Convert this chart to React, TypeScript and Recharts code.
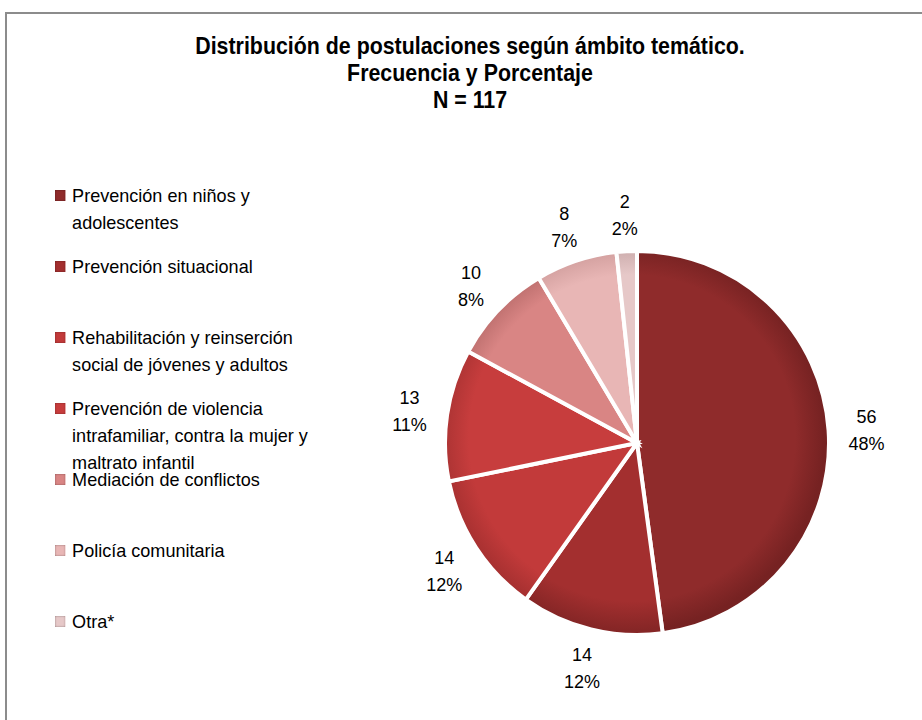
import { PieChart, Pie, Cell } from "recharts";

const categories = [
  "Prevención en niños y adolescentes",
  "Prevención situacional",
  "Rehabilitación y reinserción social de jóvenes y adultos",
  "Prevención de violencia intrafamiliar, contra la mujer y maltrato infantil",
  "Mediación de conflictos",
  "Policía comunitaria",
  "Otra*",
];
const counts = [56, 14, 14, 13, 10, 8, 2];
const percents = ["48%", "12%", "12%", "11%", "8%", "7%", "2%"];
const colors = ["#8f2b2b", "#a32f2f", "#c23a3a", "#c73d3d", "#d98584", "#e8b6b5", "#e6c8c8"];
const edgeColors = ["#762222", "#862626", "#a53030", "#a83232", "#b86b6a", "#cf9c9b", "#c9a9a9"];

const titleLines = [
  "Distribución de postulaciones según ámbito temático.",
  "Frecuencia y Porcentaje",
  "N = 117",
];

const FONT = "'Liberation Sans Narrow', 'Arial Narrow', 'Liberation Sans', sans-serif";
const RAD = Math.PI / 180;
const CX = 632;
const CY = 438;
const R = 192;

const data = categories.map((name, i) => ({
  name,
  value: counts[i],
  pct: percents[i],
}));

function renderLabel(props: any) {
  const { cx, cy, midAngle, outerRadius, payload, index } = props;
  const r = outerRadius + 38;
  const x = cx + r * Math.cos(-midAngle * RAD);
  const y = cy + r * Math.sin(-midAngle * RAD);
  return (
    <text
      key={`lbl-${index}`}
      x={x}
      y={y}
      textAnchor="middle"
      fontFamily={FONT}
      fontSize={18}
      fill="#000"
    >
      <tspan x={x} dy={-5}>{payload.value}</tspan>
      <tspan x={x} dy={27}>{payload.pct}</tspan>
    </text>
  );
}

function LegendBox() {
  return (
    <div
      style={{
        position: "absolute",
        left: 55,
        top: 182,
        fontFamily: FONT,
        fontSize: 19,
        color: "#000",
        transform: "scaleX(0.95)",
        transformOrigin: "0 0",
      }}
    >
      {data.map((d, i) => (
        <div key={d.name} style={{ height: 71, display: "flex", alignItems: "flex-start", width: 275 }}>
          <span
            style={{
              width: 11,
              height: 11,
              background: colors[i],
              marginTop: 8,
              marginRight: 7,
              flexShrink: 0,
              boxShadow: "inset 0 0 2px rgba(0,0,0,0.45)",
            }}
          />
          <span style={{ lineHeight: "27px" }}>{d.name}</span>
        </div>
      ))}
    </div>
  );
}

export default function App() {
  return (
    <div style={{ position: "absolute", left: 0, top: 0, width: 922, height: 720, background: "#fff", overflow: "hidden" }}>
      {/* frame */}
      <div
        style={{
          position: "absolute",
          left: 5,
          top: 12,
          width: 930,
          height: 720,
          border: "2px solid #8c8c8c",
        }}
      />
      <div style={{ position: "absolute", left: 0, top: 0 }}>
        <PieChart width={922} height={720}>
          <defs>
            {colors.map((c, i) => (
              <radialGradient key={c} id={`sl${i}`} gradientUnits="userSpaceOnUse" cx={CX} cy={CY} r={R}>
                <stop offset="0%" stopColor={c} />
                <stop offset="85%" stopColor={c} />
                <stop offset="100%" stopColor={edgeColors[i]} />
              </radialGradient>
            ))}
          </defs>
          <Pie
            data={data}
            dataKey="value"
            cx={CX}
            cy={CY}
            outerRadius={R}
            startAngle={90}
            endAngle={-270}
            stroke="#fff"
            strokeWidth={4}
            label={renderLabel}
            labelLine={false}
            isAnimationActive={false}
          >
            {data.map((d, i) => (
              <Cell key={d.name} fill={`url(#sl${i})`} />
            ))}
          </Pie>
        </PieChart>
      </div>
      {/* title */}
      <div
        style={{
          position: "absolute",
          left: 0,
          top: 32,
          width: 940,
          textAlign: "center",
          fontFamily: FONT,
          fontWeight: "bold",
          fontSize: 24,
          lineHeight: "27px",
          color: "#000",
          transform: "scaleX(0.89)",
          transformOrigin: "470px 0",
        }}
      >
        {titleLines.map((t) => (
          <div key={t}>{t}</div>
        ))}
      </div>
      <LegendBox />
    </div>
  );
}
